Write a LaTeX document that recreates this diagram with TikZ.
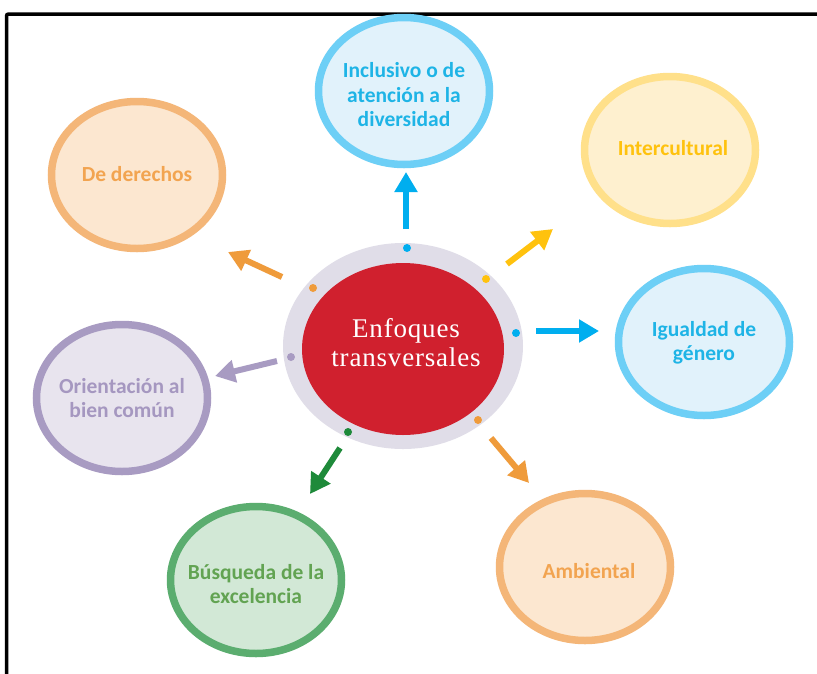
\documentclass[tikz,border=0pt]{standalone}
\usepackage{fontspec}
\setmainfont{Liberation Serif}
\newfontfamily\satfont{Carlito}
\newfontfamily\ctrfont[LetterSpace=3]{Liberation Serif}
\usetikzlibrary{shapes.geometric,arrows.meta}
\definecolor{ringgray}{HTML}{E0DDE8}
\definecolor{ctrred}{HTML}{D0202E}
\definecolor{bluebd}{HTML}{6DCFF6}
\definecolor{bluefill}{HTML}{E1F2FB}
\definecolor{bluetxt}{HTML}{1EB4E6}
\definecolor{bluearr}{HTML}{00AEEF}
\definecolor{yelbd}{HTML}{FFE08A}
\definecolor{yelfill}{HTML}{FEF0CF}
\definecolor{yeltxt}{HTML}{FFC20E}
\definecolor{yelarr}{HTML}{FFC20E}
\definecolor{orbd}{HTML}{F4B678}
\definecolor{orfill}{HTML}{FCE7D0}
\definecolor{ortxt}{HTML}{F2A450}
\definecolor{orarr}{HTML}{EF9B3B}
\definecolor{grbd}{HTML}{5BAD6F}
\definecolor{grfill}{HTML}{D2E8D6}
\definecolor{grtxt}{HTML}{62A352}
\definecolor{grarr}{HTML}{1E8A3A}
\definecolor{pubd}{HTML}{A89BC2}
\definecolor{pufill}{HTML}{E8E4EE}
\definecolor{putxt}{HTML}{A597C0}
\tikzset{
  sat/.style={ellipse, draw, line width=7.5pt, inner sep=0pt,
    minimum width=171pt, minimum height=147pt},
  sattxt/.style={font=\satfont\bfseries\fontsize{21.5}{24.5}\selectfont, align=center, inner sep=0pt},
  arr/.style={line width=6pt, -{Triangle[length=20pt,width=22pt]}},
  dot/.style={circle, inner sep=0pt, minimum size=8pt}
}
\begin{document}
\begin{tikzpicture}[x=1pt,y=-1pt]
\useasboundingbox (0,0) rectangle (817,673);
\fill[white] (0,0) rectangle (817,673);
% frame
\draw[line width=3.5pt, rounded corners=2pt] (6.5,680) -- (6.5,14) -- (830,14);

% centre
\node[ellipse, fill=ringgray, inner sep=0pt, minimum width=240pt, minimum height=206pt] (ring) at (403,346) {};
\node[ellipse, fill=ctrred, inner sep=0pt, minimum width=202pt, minimum height=172pt] (ctr) at (403,349) {};
\node[font=\ctrfont\fontsize{27}{29}\selectfont, text=white, align=center, inner sep=0pt] (ctrtxt) at (406,343) {Enfoques\\transversales};

% dots on ring
\node[dot, fill=bluearr] (d1) at (407,248) {};
\node[dot, fill=yelarr] (d2) at (486,279) {};
\node[dot, fill=bluearr] (d3) at (516,333) {};
\node[dot, fill=orarr] (d4) at (478,420) {};
\node[dot, fill=grarr] (d5) at (348,432) {};
\node[dot, fill=pubd] (d6) at (291,357) {};
\node[dot, fill=orarr] (d7) at (313,288) {};

% satellites
\node[sat, draw=bluebd, fill=bluefill] (inc) at (404,91) {};
\node[sattxt, text=bluetxt] at ([yshift=-4pt]inc) {Inclusivo o de\\atención a la\\diversidad};

\node[sat, draw=yelbd, fill=yelfill] (int) at (670,150) {};
\node[sattxt, text=yeltxt] at ([xshift=3pt,yshift=2pt]int) {Intercultural};

\node[sat, draw=bluebd, fill=bluefill] (igu) at (704,342) {};
\node[sattxt, text=bluetxt] at ([yshift=-1pt]igu) {Igualdad de\\género};

\node[sat, draw=orbd, fill=orfill] (amb) at (585,567) {};
\node[sattxt, text=ortxt] at ([xshift=4pt,yshift=-4pt]amb) {Ambiental};

\node[sat, draw=grbd, fill=grfill] (bus) at (256,580) {};
\node[sattxt, text=grtxt] at ([yshift=-4pt]bus) {Búsqueda de la\\excelencia};

\node[sat, draw=pubd, fill=pufill] (ori) at (122,398) {};
\node[sattxt, text=putxt] at (ori) {Orientación al\\bien común};

\node[sat, draw=orbd, fill=orfill] (der) at (137,175) {};
\node[sattxt, text=ortxt] at ([yshift=1pt]der) {De derechos};

% arrow coordinates
\coordinate (a1s) at (406,229); \coordinate (a1e) at (406,172);
\coordinate (a2s) at (507,264); \coordinate (a2e) at (553,229);
\coordinate (a3s) at (536,331); \coordinate (a3e) at (599,331);
\coordinate (a4s) at (491,438); \coordinate (a4e) at (529,483);
\coordinate (a5s) at (340,448); \coordinate (a5e) at (310,494);
\coordinate (a6s) at (277,361); \coordinate (a6e) at (215,376);
\coordinate (a7s) at (282,277); \coordinate (a7e) at (228,252);

\draw[arr, bluearr] (a1s) -- (a1e);
\draw[arr, yelarr] (a2s) -- (a2e);
\draw[arr, bluearr] (a3s) -- (a3e);
\draw[arr, orarr] (a4s) -- (a4e);
\draw[arr, grarr] (a5s) -- (a5e);
\draw[arr, pubd] (a6s) -- (a6e);
\draw[arr, orarr] (a7s) -- (a7e);
\end{tikzpicture}
\end{document}
